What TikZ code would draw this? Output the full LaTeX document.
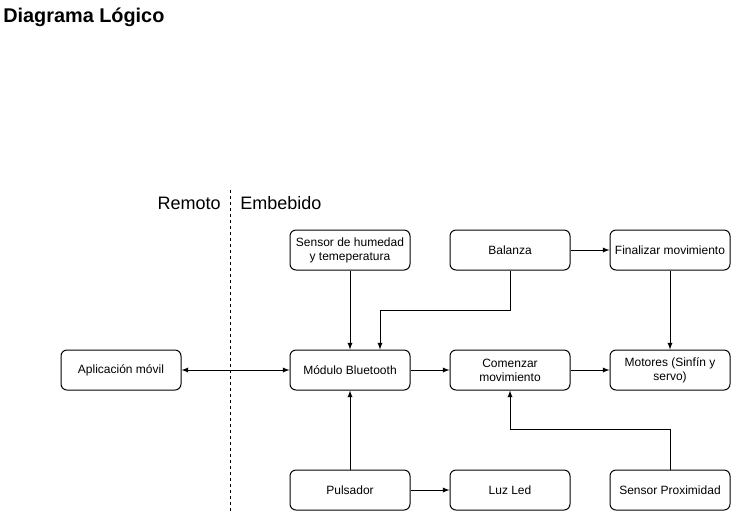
\documentclass[tikz,border=0pt]{standalone}
\usepackage{fontspec}
\setmainfont{Liberation Sans}
\usetikzlibrary{arrows,positioning,calc}

\tikzset{
  box/.style={draw,rounded corners=4.5pt,minimum width=90pt,minimum height=30pt,
    inner sep=2pt,align=center,font=\fontsize{9}{10.5}\selectfont,line width=0.75pt},
  conn/.style={-latex,line width=0.75pt},
  zone/.style={font=\fontsize{13.5}{15}\selectfont}
}

\begin{document}
\begin{tikzpicture}[x=0.75pt,y=-0.75pt]
\useasboundingbox (0,0) rectangle (731,512);

\node[anchor=base west,inner sep=0pt,font=\bfseries\fontsize{14.9}{17}\selectfont] (title) at (3,22) {Diagrama Lógico};

% division remoto / embebido
\coordinate (divtop) at (230,190);
\coordinate (divbot) at (230,512);
\draw[dashed,dash pattern=on 2.25pt off 2.25pt,line width=0.75pt] (divtop) -- (divbot);
\node[zone,anchor=base east,inner sep=0pt] (remoto) at (221,209) {Remoto};
\node[zone,anchor=base west,inner sep=0pt] (embebido) at (240,209) {Embebido};

\node[box] (app) at (121,370) {Aplicación móvil};
\node[box] (bt) at (350,370) {Módulo Bluetooth};
\node[box] (com) at (510,370) {Comenzar\\movimiento};
\node[box] (mot) at (670,370) {Motores (Sinfín y\\servo)};

\node[box] (hum) at (350,250) {Sensor de humedad\\y temeperatura};
\node[box] (bal) at (510,250) {Balanza};
\node[box] (fin) at (670,250) {Finalizar movimiento};

\node[box] (pul) at (350,490) {Pulsador};
\node[box] (led) at (510,490) {Luz Led};
\node[box] (prox) at (670,490) {Sensor Proximidad};

\draw[latex-latex,line width=0.75pt] (app) -- (bt);
\draw[conn] (hum) -- (bt);
\draw[conn] (bal.south) -- ++(0,40) -| ([xshift=22.5pt]bt.north);
\draw[conn] (bal) -- (fin);
\draw[conn] (fin) -- (mot);
\draw[conn] (bt) -- (com);
\draw[conn] (com) -- (mot);
\draw[conn] (pul) -- (bt);
\draw[conn] (pul) -- (led);
\draw[conn] (prox.north) -- ++(0,-40) -| (com.south);

\end{tikzpicture}
\end{document}
